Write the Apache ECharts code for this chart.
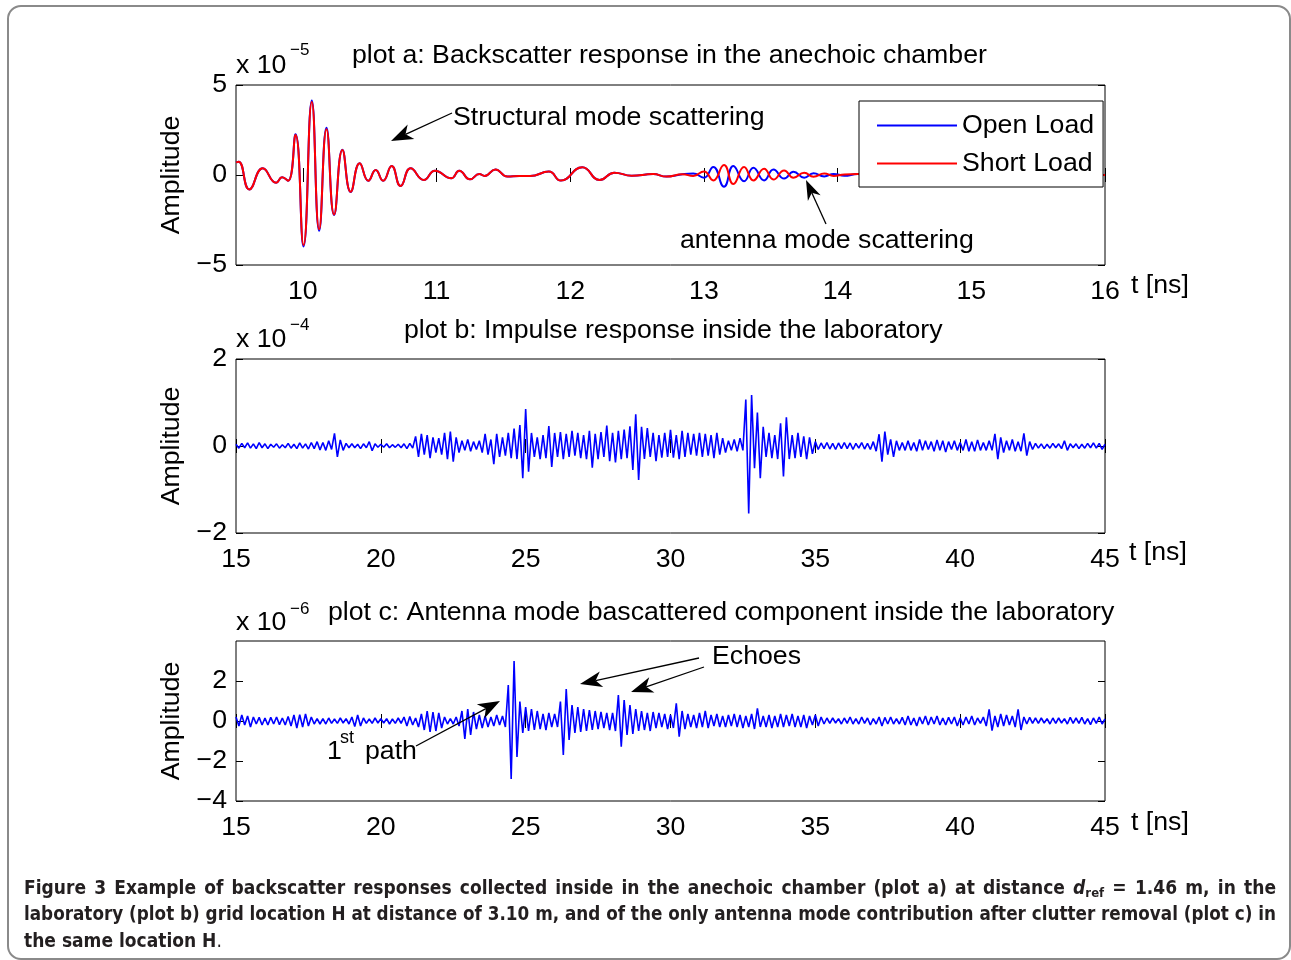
<!DOCTYPE html>
<html>
<head>
<meta charset="utf-8">
<script src="https://cdn.jsdelivr.net/npm/echarts@6.0.0/dist/echarts.min.js"></script>
<style>
  body { margin: 0; background: #fff; }
  #frame {
    position: absolute; left: 7px; top: 5px; width: 1280px; height: 951px;
    border: 2px solid #8a8a8a; border-radius: 14px;
  }
  #chart { position: absolute; left: 0; top: 0; width: 1291px; height: 960px; }
  .cap {
    position: absolute; left: 24px; white-space: nowrap; line-height: 26px;
    font-family: "Liberation Sans Narrow", "DejaVu Sans Condensed", "Liberation Sans", sans-serif;
    font-weight: bold; font-size: 19px; color: #231f20; transform-origin: 0 0;
  }
  .cap sub { font-size: 13px; vertical-align: -3px; line-height: 0; }
</style>
</head>
<body>
<div id="frame"></div>
<div id="chart"></div>
<div class="cap" id="cap1" style="top:874px">Figure 3 Example of backscatter responses collected inside in the anechoic chamber (plot a) at distance <i>d</i><sub>ref</sub> = 1.46 m, in the</div>
<div class="cap" id="cap2" style="top:900px">laboratory (plot b) grid location H at distance of 3.10 m, and of the only antenna mode contribution after clutter removal (plot c) in</div>
<div class="cap" id="cap3" style="top:927px">the same location H<span style="font-weight:normal">.</span></div>
<script>
// plot a: extrema of the backscatter response, t in ns, amplitude in units of 1e-5
const tA = [
  9.50, 9.52, 9.60, 9.70, 9.80, 9.845, 9.89, 9.945, 10.005, 10.067, 10.122, 10.177, 10.234, 10.296,
  10.358, 10.425, 10.49, 10.545, 10.60, 10.664, 10.731, 10.806, 10.905, 10.988, 11.11, 11.17, 11.25,
  11.32, 11.36, 11.44, 11.53, 11.62, 11.70, 11.84, 11.93, 12.09, 12.22, 12.33, 12.46, 12.62, 12.72, 12.84,
  12.92, 13.00, 13.07, 13.15, 13.22, 13.30, 13.37, 13.45, 13.52, 13.60, 13.67, 13.75, 13.82, 13.90, 13.97, 14.05,
  14.15, 14.30, 14.50, 14.80, 15.10, 15.40, 15.70, 16.00
]
const openA = [
  0.70, 0.74, -0.80, 0.37, -0.43, -0.13, -0.32, 2.26, -3.97, 4.14, -3.10, 2.62, -2.22, 1.40,
  -0.94, 0.65, -0.32, 0.28, -0.32, 0.50, -0.61, 0.37, -0.28, 0.24, -0.18, 0.24, -0.24,
  0.05, -0.05, 0.31, -0.09, -0.05, -0.06, 0.19, -0.31, 0.43, -0.28, 0.13, -0.04, 0.05, -0.09, 0.04,
  0.08, -0.15, 0.45, -0.65, 0.50, -0.35, 0.40, -0.30, 0.30, -0.20, 0.18, -0.15, 0.10, -0.08, 0.06, -0.04,
  0.05, -0.03, 0.04, -0.02, 0.02, -0.02, 0.01, 0.00
]
const shortA = [
  0.70, 0.74, -0.80, 0.37, -0.43, -0.13, -0.32, 2.22, -3.89, 4.05, -3.02, 2.54, -2.19, 1.39,
  -0.93, 0.65, -0.32, 0.28, -0.32, 0.50, -0.61, 0.37, -0.28, 0.24, -0.18, 0.24, -0.24,
  0.05, -0.05, 0.31, -0.09, -0.05, -0.06, 0.19, -0.31, 0.43, -0.28, 0.13, -0.04, 0.05, -0.09, 0.04,
  -0.05, 0.20, -0.30, 0.55, -0.50, 0.45, -0.30, 0.35, -0.25, 0.25, -0.15, 0.12, -0.10, 0.08, -0.05, 0.03,
  0.05, -0.03, 0.04, -0.02, 0.02, -0.02, 0.01, 0.00
]

// plots b and c: sampled every 0.1 ns from 15 ns
const tStartBC = 15
const dtBC = 0.1

// plot b: impulse response inside the laboratory, units of 1e-4
const ampB = [
  0.04, -0.05, 0.06, -0.04, 0.07, -0.05, 0.05, -0.06, 0.08, -0.04,
  0.05, -0.06, 0.04, -0.03, 0.05, -0.05, 0.03, -0.04, 0.06, -0.05,
  0.04, -0.06, 0.07, -0.05, 0.05, -0.07, 0.08, -0.06, 0.10, -0.09,
  0.08, -0.10, 0.12, -0.08, 0.29, -0.25, 0.14, -0.10, 0.06, -0.04,
  0.05, -0.04, 0.04, -0.06, 0.05, -0.04, 0.10, -0.11, 0.05, -0.03,
  0.04, -0.03, 0.05, -0.04, 0.03, -0.03, 0.04, -0.04, 0.05, -0.06,
  0.06, -0.05, 0.22, -0.25, 0.28, -0.20, 0.25, -0.28, 0.20, -0.15,
  0.18, -0.20, 0.30, -0.30, 0.33, -0.36, 0.20, -0.15, 0.12, -0.10,
  0.15, -0.12, 0.10, -0.08, 0.12, -0.15, 0.28, -0.20, 0.15, -0.42,
  0.28, -0.25, 0.20, -0.22, 0.30, -0.28, 0.40, -0.30, 0.48, -0.74,
  0.85, -0.59, 0.30, -0.25, 0.20, -0.30, 0.25, -0.28, 0.46, -0.48,
  0.30, -0.25, 0.32, -0.30, 0.28, -0.25, 0.35, -0.22, 0.30, -0.28,
  0.25, -0.30, 0.35, -0.50, 0.28, -0.30, 0.32, -0.25, 0.47, -0.35,
  0.30, -0.38, 0.35, -0.30, 0.38, -0.28, 0.45, -0.55, 0.73, -0.78,
  0.44, -0.30, 0.41, -0.25, 0.30, -0.35, 0.25, -0.27, 0.30, -0.25,
  0.37, -0.27, 0.25, -0.30, 0.35, -0.25, 0.30, -0.20, 0.28, -0.22,
  0.30, -0.25, 0.28, -0.22, 0.25, -0.28, 0.30, -0.20, 0.18, -0.15,
  0.12, -0.10, 0.15, -0.12, 0.18, -0.10, 1.07, -1.55, 1.17, -0.51,
  0.77, -0.74, 0.44, -0.25, 0.30, -0.28, 0.25, -0.30, 0.52, -0.70,
  0.66, -0.30, 0.25, -0.28, 0.30, -0.25, 0.22, -0.30, 0.20, -0.18,
  0.10, -0.08, 0.07, -0.06, 0.08, -0.07, 0.06, -0.08, 0.07, -0.06,
  0.08, -0.06, 0.07, -0.08, 0.06, -0.05, 0.08, -0.07, 0.06, -0.08,
  0.10, -0.12, 0.27, -0.36, 0.33, -0.20, 0.15, -0.25, 0.12, -0.10,
  0.08, -0.10, 0.12, -0.10, 0.08, -0.12, 0.15, -0.10, 0.12, -0.08,
  0.10, -0.12, 0.14, -0.10, 0.12, -0.14, 0.10, -0.08, 0.12, -0.10,
  0.08, -0.10, 0.15, -0.12, 0.10, -0.12, 0.14, -0.10, 0.08, -0.10,
  0.12, -0.10, 0.28, -0.30, 0.20, -0.15, 0.12, -0.10, 0.15, -0.12,
  0.10, -0.12, 0.29, -0.22, 0.10, -0.08, 0.06, -0.05, 0.05, -0.06,
  0.04, -0.05, 0.06, -0.04, 0.05, -0.06, 0.12, -0.10, 0.05, -0.04,
  0.05, -0.06, 0.04, -0.05, 0.06, -0.04, 0.07, -0.05, 0.06, -0.08,
  0.04
]

// plot c: antenna mode component after clutter removal, units of 1e-6
const ampC = [
  0.20, -0.25, 0.30, -0.20, 0.25, -0.30, 0.20, -0.15, 0.18, -0.20,
  0.15, -0.20, 0.18, -0.15, 0.20, -0.18, 0.15, -0.20, 0.22, -0.25,
  0.30, -0.35, 0.32, -0.30, 0.35, -0.25, 0.20, -0.15, 0.12, -0.15,
  0.12, -0.15, 0.15, -0.12, 0.10, -0.12, 0.15, -0.10, 0.12, -0.15,
  0.20, -0.28, 0.30, -0.25, 0.15, -0.12, 0.10, -0.12, 0.15, -0.10,
  0.12, -0.10, 0.12, -0.15, 0.10, -0.12, 0.15, -0.12, 0.20, -0.25,
  0.22, -0.20, 0.15, -0.30, 0.35, -0.45, 0.50, -0.55, 0.45, -0.50,
  0.40, -0.35, 0.20, -0.15, 0.12, -0.15, 0.20, -0.25, 0.50, -0.90,
  0.60, -0.70, 0.45, -0.40, 0.30, -0.35, 0.25, -0.30, 0.20, -0.25,
  0.30, -0.20, 0.25, -0.30, 1.80, -2.90, 3.00, -1.80, 0.97, -0.60,
  0.70, -0.50, 0.60, -0.45, 0.50, -0.40, 0.35, -0.45, 0.40, -0.30,
  0.35, -0.30, 0.97, -1.70, 1.60, -0.95, 0.80, -0.60, 0.70, -0.55,
  0.60, -0.50, 0.55, -0.45, 0.50, -0.40, 0.45, -0.35, 0.40, -0.45,
  0.40, -0.50, 1.30, -1.28, 1.05, -0.70, 0.80, -0.65, 0.60, -0.50,
  0.50, -0.45, 0.40, -0.50, 0.45, -0.35, 0.40, -0.30, 0.35, -0.40,
  0.30, -0.35, 0.88, -0.78, 0.50, -0.40, 0.35, -0.30, 0.30, -0.35,
  0.40, -0.30, 0.50, -0.35, 0.30, -0.25, 0.35, -0.30, 0.25, -0.30,
  0.30, -0.25, 0.35, -0.30, 0.30, -0.35, 0.25, -0.30, 0.35, -0.40,
  0.63, -0.30, 0.25, -0.30, 0.30, -0.35, 0.25, -0.30, 0.35, -0.30,
  0.30, -0.25, 0.35, -0.30, 0.25, -0.30, 0.30, -0.35, 0.25, -0.20,
  0.30, -0.25, 0.20, -0.15, 0.15, -0.12, 0.15, -0.10, 0.12, -0.15,
  0.15, -0.12, 0.20, -0.15, 0.12, -0.15, 0.20, -0.12, 0.15, -0.20,
  0.12, -0.15, 0.20, -0.25, 0.18, -0.15, 0.20, -0.15, 0.12, -0.15,
  0.18, -0.20, 0.25, -0.20, 0.15, -0.25, 0.20, -0.15, 0.25, -0.20,
  0.20, -0.15, 0.25, -0.20, 0.15, -0.20, 0.18, -0.15, 0.20, -0.25,
  0.15, -0.20, 0.20, -0.15, 0.25, -0.20, 0.15, -0.12, 0.20, -0.25,
  0.58, -0.48, 0.25, -0.30, 0.35, -0.25, 0.30, -0.20, 0.25, -0.30,
  0.58, -0.45, 0.20, -0.15, 0.18, -0.12, 0.15, -0.12, 0.15, -0.10,
  0.12, -0.15, 0.15, -0.12, 0.15, -0.10, 0.12, -0.15, 0.18, -0.12,
  0.15, -0.12, 0.18, -0.15, 0.12, -0.18, 0.15, -0.12, 0.20, -0.15,
  0.10
]

// axis ticks
const ticksXA = [10, 11, 12, 13, 14, 15, 16]
const ticksXBC = [15, 20, 25, 30, 35, 40, 45]
const ticksYA = [-5, 0, 5]
const ticksYB = [-2, 0, 2]
const ticksYC = [-4, -2, 0, 2]

const FONT = '"Liberation Sans", Arial, Helvetica, sans-serif'
const FS = 26.7
const BLUE = '#0000ff'
const RED = '#ff0000'

const minusFmt = v => (v < 0 ? '\u2212' + Math.abs(v) : String(v))
const sampled = arr => arr.map((v, i) => [+(tStartBC + i * dtBC).toFixed(2), v])

const tickStyle = ticks => ({ inside: true, length: 7, lineStyle: { color: '#000', width: 1 }, customValues: ticks })
const labelStyle = (ticks, extra) => Object.assign(
  { customValues: ticks, color: '#000', fontSize: FS, fontFamily: FONT, formatter: minusFmt }, extra)

const xPair = (gi, min, max, ticks) => {
  const base = { gridIndex: gi, type: 'value', min, max, splitLine: { show: false }, axisLine: { show: false } }
  return [
    { ...base, position: 'bottom', axisTick: tickStyle(ticks), axisLabel: labelStyle(ticks, { margin: 13 }) },
    { ...base, position: 'top', axisTick: tickStyle(ticks), axisLabel: { show: false } },
  ]
}
const yPair = (gi, min, max, ticks) => {
  const base = { gridIndex: gi, type: 'value', min, max, splitLine: { show: false }, axisLine: { show: false } }
  return [
    { ...base, position: 'left', axisTick: tickStyle(ticks), axisLabel: labelStyle(ticks, { margin: 9, padding: [3, 0, 0, 0] }) },
    { ...base, position: 'right', axisTick: tickStyle(ticks), axisLabel: { show: false } },
  ]
}

const gridStyle = { show: true, borderColor: '#000', borderWidth: 1, backgroundColor: 'transparent' }

// annotation helpers
const txt = (x, y, text, size = FS, align = 'left') => ({
  type: 'text', x, y, z: 10,
  style: { text, fontSize: size, fontFamily: FONT, fill: '#000', align, verticalAlign: 'middle' }
})
const arrow = (x1, y1, x2, y2, len = 22, hw = 8) => {
  const a = Math.atan2(y2 - y1, x2 - x1)
  const c = Math.cos(a), s = Math.sin(a)
  const bx = x2 - len * c, by = y2 - len * s
  const nx = x2 - (len - 6) * c, ny = y2 - (len - 6) * s
  return [
    { type: 'line', z: 10, shape: { x1, y1, x2: nx, y2: ny }, style: { stroke: '#000', lineWidth: 1.3 } },
    { type: 'polygon', z: 10, shape: { points: [[x2, y2], [bx - s * hw, by + c * hw], [nx, ny], [bx + s * hw, by - c * hw]] },
      style: { fill: '#000' } },
  ]
}

const chart = echarts.init(document.getElementById('chart'))
chart.setOption({
  animation: false,
  backgroundColor: 'transparent',
  grid: [
    { left: 236, top: 85, width: 869, height: 180, ...gridStyle },
    { left: 236, top: 359, width: 869, height: 174, ...gridStyle },
    { left: 236, top: 641, width: 869, height: 160, ...gridStyle },
  ],
  xAxis: [
    ...xPair(0, 9.5, 16, ticksXA),
    ...xPair(1, 15, 45, ticksXBC),
    ...xPair(2, 15, 45, ticksXBC),
  ],
  yAxis: [
    ...yPair(0, -5, 5, ticksYA),
    ...yPair(1, -2, 2, ticksYB),
    ...yPair(2, -4, 4, ticksYC),
  ],
  legend: {
    data: ['Open Load', 'Short Load'],
    orient: 'vertical',
    left: 859, top: 101,
    itemWidth: 80, itemHeight: 26, itemGap: 11,
    padding: [11, 9, 10, 17],
    itemStyle: { opacity: 0 },
    backgroundColor: '#fff', borderColor: '#000', borderWidth: 1, borderRadius: 0,
    textStyle: { fontSize: FS, color: '#000', fontFamily: FONT },
  },
  series: [
    {
      name: 'Open Load', type: 'line', xAxisIndex: 0, yAxisIndex: 0, smooth: 0.5, symbol: 'none',
      lineStyle: { color: BLUE, width: 2 }, itemStyle: { color: BLUE },
      data: tA.map((t, i) => [t, openA[i]]),
    },
    {
      name: 'Short Load', type: 'line', xAxisIndex: 0, yAxisIndex: 0, smooth: 0.5, symbol: 'none',
      lineStyle: { color: RED, width: 2 }, itemStyle: { color: RED },
      data: tA.map((t, i) => [t, shortA[i]]),
    },
    {
      name: 'lab', type: 'line', xAxisIndex: 2, yAxisIndex: 2, symbol: 'none',
      lineStyle: { color: BLUE, width: 1.6 }, data: sampled(ampB),
    },
    {
      name: 'antenna', type: 'line', xAxisIndex: 4, yAxisIndex: 4, symbol: 'none',
      lineStyle: { color: BLUE, width: 1.6 }, data: sampled(ampC),
    },
  ],
  graphic: [
    // titles
    txt(352, 56, 'plot a: Backscatter response in the anechoic chamber'),
    txt(404, 331, 'plot b: Impulse response inside the laboratory'),
    txt(328, 613, 'plot c: Antenna mode bascattered component inside the laboratory'),
    // exponents
    txt(236, 66, 'x 10'), txt(290, 50, '\u22125', 17),
    txt(236, 340, 'x 10'), txt(290, 325, '\u22124', 17),
    txt(236, 623, 'x 10'), txt(290, 609, '\u22126', 17),
    // axis names
    txt(1131, 286, 't [ns]'), txt(1129, 553, 't [ns]'), txt(1131, 823, 't [ns]'),
    { ...txt(172, 175, 'Amplitude', FS, 'center'), rotation: Math.PI / 2 },
    { ...txt(172, 446, 'Amplitude', FS, 'center'), rotation: Math.PI / 2 },
    { ...txt(172, 721, 'Amplitude', FS, 'center'), rotation: Math.PI / 2 },
    // annotations
    txt(453, 118, 'Structural mode scattering'),
    ...arrow(452, 113, 391, 141),
    txt(680, 241, 'antenna mode scattering'),
    ...arrow(826, 224, 806, 180, 20, 7),
    txt(712, 657, 'Echoes'),
    ...arrow(699, 658, 580, 684),
    ...arrow(704, 667, 631, 692),
    txt(327, 752, '1'), txt(340, 738, 'st', 18), txt(365, 752, 'path'),
    ...arrow(416, 746, 500, 701),
  ],
})

// justify the caption lines to the text block width
const capWidth = 1252
;['cap1', 'cap2'].forEach(id => {
  const el = document.getElementById(id)
  const w = el.getBoundingClientRect().width
  const gaps = (el.textContent.match(/ /g) || []).length
  if (w < capWidth) el.style.wordSpacing = ((capWidth - w) / gaps) + 'px'
  else el.style.transform = 'scaleX(' + (capWidth / w) + ')'
})
</script>
</body>
</html>
